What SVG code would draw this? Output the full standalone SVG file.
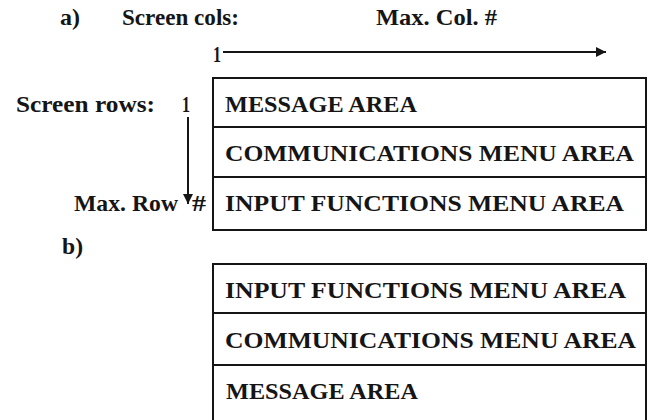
<svg xmlns="http://www.w3.org/2000/svg" width="650" height="420" viewBox="0 0 650 420">
<style>
text{font-family:"Liberation Serif","Times New Roman",serif;font-weight:bold;font-size:23px;fill:#151515}
.box{fill:none;stroke:#151515;stroke-width:2}
.line{stroke:#151515;stroke-width:2;fill:none}
</style>
<defs>
<marker id="ah" viewBox="0 0 10 10" refX="10" refY="5" markerWidth="16" markerHeight="10" markerUnits="userSpaceOnUse" orient="auto">
<path d="M0,0 L10,5 L0,10 Z" fill="#151515"/>
</marker>
</defs>
<g id="labels">
<text x="60" y="25" textLength="20" lengthAdjust="spacingAndGlyphs">a)</text>
<text x="122" y="25" textLength="117" lengthAdjust="spacingAndGlyphs">Screen cols:</text>
<text x="376" y="25" textLength="121" lengthAdjust="spacingAndGlyphs">Max. Col. #</text>
<text x="213" y="62" textLength="8" lengthAdjust="spacingAndGlyphs">1</text>
<text x="16" y="112" textLength="139" lengthAdjust="spacingAndGlyphs">Screen rows:</text>
<text x="182" y="112" textLength="8" lengthAdjust="spacingAndGlyphs">1</text>
<text x="74" y="211" textLength="104" lengthAdjust="spacingAndGlyphs">Max. Row</text>
<text x="192" y="211" textLength="14" lengthAdjust="spacingAndGlyphs">#</text>
<text x="62" y="254" textLength="21" lengthAdjust="spacingAndGlyphs">b)</text>
</g>
<g id="connectors">
<line class="line" x1="223" y1="52" x2="606" y2="52" marker-end="url(#ah)"/>
<line class="line" x1="188" y1="117" x2="188" y2="204" marker-end="url(#ah)"/>
</g>
<g id="screen-a">
<rect class="box" x="213" y="78" width="433" height="152"/>
<line class="line" x1="213" y1="127" x2="646" y2="127"/>
<line class="line" x1="213" y1="177" x2="646" y2="177"/>
<text x="225" y="112" textLength="192" lengthAdjust="spacingAndGlyphs">MESSAGE AREA</text>
<text x="225" y="161" textLength="409" lengthAdjust="spacingAndGlyphs">COMMUNICATIONS MENU AREA</text>
<text x="225" y="211" textLength="399" lengthAdjust="spacingAndGlyphs">INPUT FUNCTIONS MENU AREA</text>
</g>
<g id="screen-b">
<rect class="box" x="213" y="264" width="433" height="170"/>
<line class="line" x1="213" y1="313" x2="646" y2="313"/>
<line class="line" x1="213" y1="365" x2="646" y2="365"/>
<text x="225" y="298" textLength="401" lengthAdjust="spacingAndGlyphs">INPUT FUNCTIONS MENU AREA</text>
<text x="225" y="348" textLength="411" lengthAdjust="spacingAndGlyphs">COMMUNICATIONS MENU AREA</text>
<text x="226" y="399" textLength="192" lengthAdjust="spacingAndGlyphs">MESSAGE AREA</text>
</g>
</svg>
